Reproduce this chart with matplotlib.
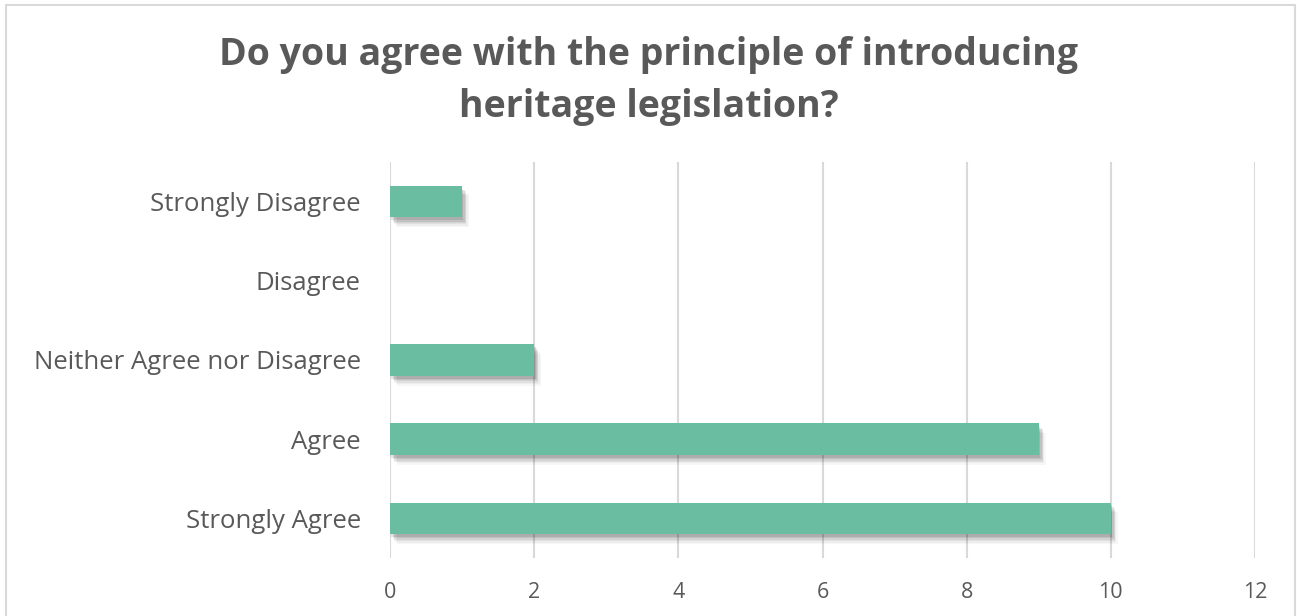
import matplotlib
matplotlib.use("Agg")
import matplotlib.pyplot as plt
import matplotlib.patheffects as pe
from matplotlib.patches import Rectangle

categories = ["Strongly Agree", "Agree", "Neither Agree nor Disagree", "Disagree", "Strongly Disagree"]
counts = [10, 9, 2, 0, 1]
xticks = [0, 2, 4, 6, 8, 10, 12]
title = "Do you agree with the principle of introducing\nheritage legislation?"

bar_color = "#6BBDA2"
text_color = "#595959"
grid_color = "#D9D9D9"
font = ["Open Sans", "DejaVu Sans"]

fig = plt.figure(figsize=(12.97, 6.16), dpi=100)
fig.patch.set_facecolor("white")

# outer chart frame
fig.patches.append(Rectangle((6 / 1297, -0.02), 1289 / 1297, 1 - 5 / 616 + 0.02,
                             transform=fig.transFigure, fill=False,
                             edgecolor="#D9D9D9", linewidth=1.5))

ax = fig.add_axes([390 / 1297, 58 / 616, 865 / 1297, 396 / 616])
ypos = list(range(len(categories)))
bars = ax.barh(ypos, counts, height=0.4, color=bar_color, zorder=3)

# soft drop shadow under each bar, built from stacked translucent layers
shadow = []
for dx, dy, a in [(5, -7, 0.03), (4, -6, 0.04), (3, -5, 0.05),
                  (3, -4, 0.06), (2, -3, 0.08), (1, -2, 0.10)]:
    shadow.append(pe.SimplePatchShadow(offset=(dx, dy), shadow_rgbFace="black", alpha=a))
shadow.append(pe.Normal())
for b in bars:
    if b.get_width() > 0:
        b.set_path_effects(shadow)

ax.set_xlim(0, 12)
ax.set_ylim(-0.5, len(categories) - 0.5)
ax.set_xticks(xticks)
ax.set_xticklabels([str(t) for t in xticks], family=font, fontsize=15.5, color=text_color)
ax.set_yticks(ypos)
ax.set_yticklabels(categories, family=font, fontsize=18.5, color=text_color)
ax.tick_params(axis="both", length=0)
ax.tick_params(axis="x", pad=17)
ax.tick_params(axis="y", pad=21)
ax.xaxis.grid(True, color=grid_color, linewidth=1.5, zorder=0)
for s in ax.spines.values():
    s.set_visible(False)

fig.text(0.5, 1 - 81 / 616, title, ha="center", va="center", family=font,
         fontsize=27, fontweight="bold", color=text_color, linespacing=1.45)

fig.savefig("out.png", dpi=100, facecolor="white")
